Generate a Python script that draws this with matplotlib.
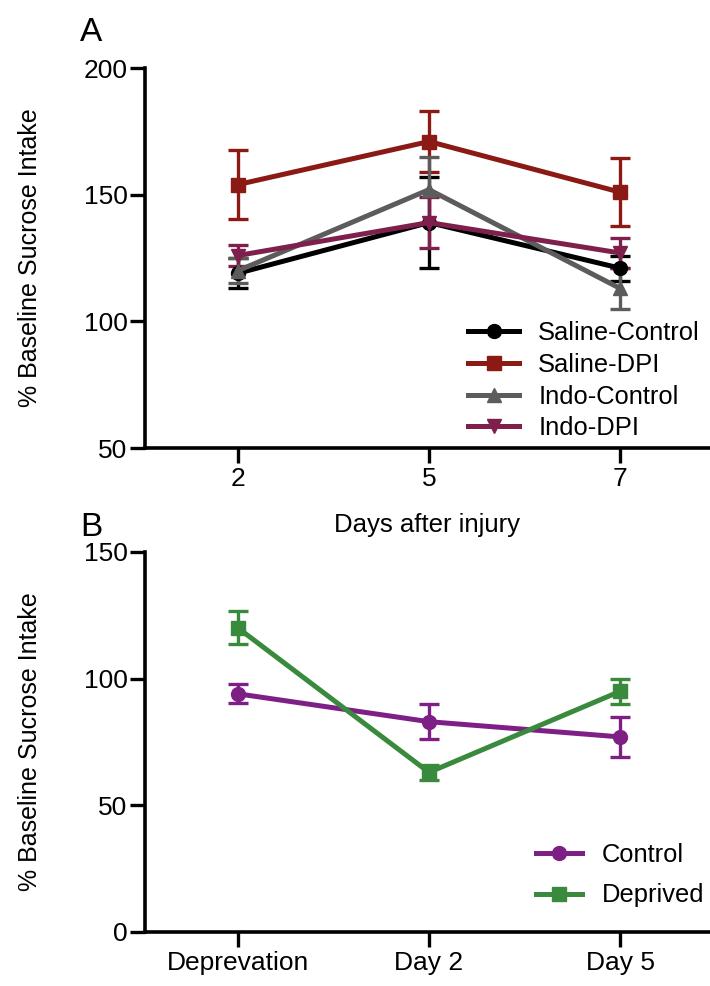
import matplotlib
matplotlib.use("Agg")
import matplotlib.pyplot as plt
from matplotlib.lines import Line2D
import numpy as np

plt.rcParams['font.family'] = ['Liberation Sans', 'DejaVu Sans']

# panel A: sucrose intake after injury
days = ["2", "5", "7"]
saline_control = [119, 139, 121]
saline_control_err = [6, 18, 5]
saline_dpi = [154, 171, 151]
saline_dpi_err = [13.5, 12, 13.5]
indo_control = [120, 152, 113]
indo_control_err = [5, 13, 8]
indo_dpi = [126, 139, 127]
indo_dpi_err = [4, 10, 6]

# panel B: deprivation
phases = ["Deprevation", "Day 2", "Day 5"]
control = [94, 83, 77]
control_err = [3.7, 7, 8]
deprived = [120, 63, 95]
deprived_err = [6.5, 3, 5]

fig = plt.figure(figsize=(7.10, 9.86), dpi=100)
ax1 = fig.add_axes([0.204, 0.5456, 0.796, 0.3854])
ax2 = fig.add_axes([0.204, 0.0548, 0.796, 0.3854])


def style(ax):
    for s in ["top", "right"]:
        ax.spines[s].set_visible(False)
    for s in ["left", "bottom"]:
        ax.spines[s].set_linewidth(2.6)
    ax.tick_params(direction="out", length=10.5, width=2.4, labelsize=19)
    ax.tick_params(axis="x", pad=3)
    ax.tick_params(axis="y", pad=2)
    ax.set_xlim(-0.487, 2.47)


def series(ax, y, err, color, marker, label, ms=10):
    x = np.arange(len(y))
    ax.errorbar(x, y, yerr=err, color=color, marker=marker, markersize=ms,
                linewidth=3.6, elinewidth=2.4, capsize=7, capthick=2.4)
    # legend entry shows the line and marker only
    return Line2D([], [], color=color, marker=marker, markersize=ms,
                  linewidth=3.6, label=label)


h1 = [
    series(ax1, saline_control, saline_control_err, "black", "o", "Saline-Control"),
    series(ax1, saline_dpi, saline_dpi_err, "#8b1a14", "s", "Saline-DPI"),
    series(ax1, indo_control, indo_control_err, "#5c5c5c", "^", "Indo-Control"),
    series(ax1, indo_dpi, indo_dpi_err, "#7e1f4c", "v", "Indo-DPI"),
]
style(ax1)
ax1.set_ylim(50, 200)
ax1.set_yticks([50, 100, 150, 200])
ax1.set_xticks(range(len(days)))
ax1.set_xticklabels(days)
ax1.set_ylabel("% Baseline Sucrose Intake", fontsize=18, labelpad=30)
ax1.set_xlabel("Days after injury", fontsize=18.5, labelpad=16)
ax1.legend(handles=h1, loc="lower right", bbox_to_anchor=(1.023, -0.04),
           frameon=False, fontsize=18.4, handlelength=2.0,
           labelspacing=0.3, handletextpad=0.75)

h2 = [
    series(ax2, control, control_err, "#7e1f86", "o", "Control"),
    series(ax2, deprived, deprived_err, "#3a8a3e", "s", "Deprived"),
]
style(ax2)
ax2.set_ylim(0, 150)
ax2.set_yticks([0, 50, 100, 150])
ax2.set_xticks(range(len(phases)))
ax2.set_xticklabels(phases)
ax2.set_ylabel("% Baseline Sucrose Intake", fontsize=18, labelpad=30)
ax2.legend(handles=h2, loc="lower right", bbox_to_anchor=(1.03, 0.004),
           frameon=False, fontsize=18.4, handlelength=1.8,
           labelspacing=0.65, handletextpad=0.75)

fig.text(0.113, 0.958, "A", fontsize=24)
fig.text(0.113, 0.456, "B", fontsize=24)

fig.savefig("out.png", dpi=100)
